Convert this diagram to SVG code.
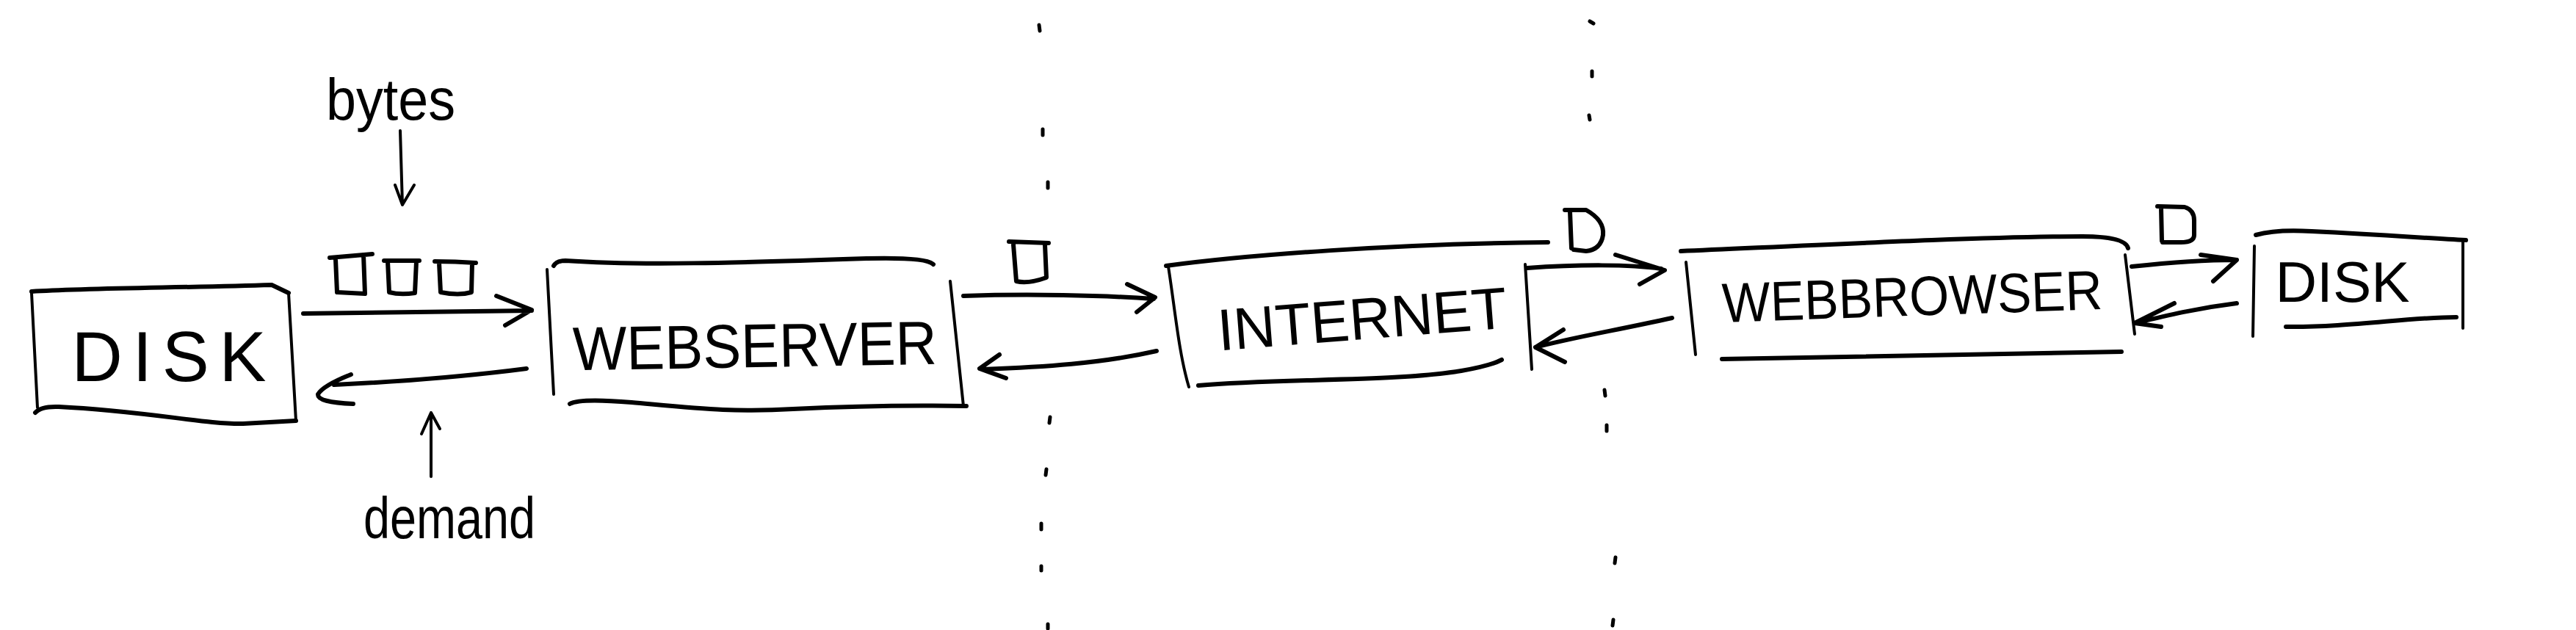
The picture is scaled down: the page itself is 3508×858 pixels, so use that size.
<svg xmlns="http://www.w3.org/2000/svg" width="3508" height="858" viewBox="0 0 3508 858">
<style>
.ln{fill:none;stroke:#000;stroke-width:6;stroke-linecap:round;stroke-linejoin:round}
.th{stroke-width:4}
.dot{fill:none;stroke:#000;stroke-width:5;stroke-linecap:round}
.lbl{font-family:"Liberation Sans",Arial,sans-serif;fill:#000}
</style>
<rect width="3508" height="858" fill="#fff"/>
<g id="boundaries">
<path class="dot" d="M1415,34 L1416,42 M1420,176 L1420,184 M1427,248 L1427,256 M1430,568 L1429,576 M1425,639 L1424,647 M1418,713 L1418,721 M1418,771 L1418,777 M1427,850 L1427,856"/>
<path class="dot" d="M2165,29 L2170,32 M2168,97 L2168,104 M2164,157 L2165,163 M2185,531 L2186,539 M2188,579 L2188,587 M2200,759 L2199,767 M2197,844 L2196,852"/>
</g>
<g id="disk">
<path class="ln" d="M43,397 C120,392 250,392 370,388 L393,399"/>
<path class="ln th" d="M43,399 L51,555"/>
<path class="ln th" d="M393,399 L403,573"/>
<path class="ln" d="M48,562 Q56,553 80,554 C200,560 280,578 331,577 L403,573"/>
<text class="lbl" x="230" y="519" font-size="96" text-anchor="middle" textLength="265" lengthAdjust="spacing">DISK</text>
</g>
<g id="webserver">
<path class="ln" d="M754,362 Q758,355 770,355 C870,362 1000,358 1180,352 Q1262,350 1271,360"/>
<path class="ln th" d="M745,367 L754,537"/>
<path class="ln th" d="M1294,383 L1312,553"/>
<path class="ln" d="M776,550 Q790,542 860,548 C950,556 1000,562 1080,557 C1180,552 1260,552 1316,553"/>
<text class="lbl" x="1028" y="500" font-size="84" text-anchor="middle" textLength="496" lengthAdjust="spacingAndGlyphs" transform="rotate(-1 1028 480)">WEBSERVER</text>
</g>
<g id="internet">
<path class="ln" d="M1588,362 C1700,347 1900,332 2108,330"/>
<path class="ln th" d="M1591,363 C1600,420 1605,480 1619,527"/>
<path class="ln th" d="M2077,360 L2086,503"/>
<path class="ln" d="M1632,525 C1750,515 1900,520 1990,505 Q2030,498 2045,490"/>
<text class="lbl" x="1855" y="462" font-size="80" text-anchor="middle" textLength="395" lengthAdjust="spacingAndGlyphs" transform="rotate(-4.5 1855 435)">INTERNET</text>
</g>
<g id="webbrowser">
<path class="ln" d="M2289,342 C2450,335 2700,322 2836,322 Q2894,322 2898,338"/>
<path class="ln th" d="M2296,357 L2309,483"/>
<path class="ln th" d="M2894,347 L2907,455"/>
<path class="ln" d="M2345,489 L2889,479"/>
<text class="lbl" x="2604" y="430" font-size="76" text-anchor="middle" textLength="518" lengthAdjust="spacingAndGlyphs" transform="rotate(-2 2604 405)">WEBBROWSER</text>
</g>
<g id="disk2">
<path class="ln" d="M3072,320 Q3100,312 3148,315 C3250,320 3300,324 3358,327"/>
<path class="ln th" d="M3070,335 L3068,458"/>
<path class="ln th" d="M3354,330 L3354,447"/>
<path class="ln" d="M3113,445 C3200,446 3280,432 3345,432"/>
<text class="lbl" x="3190" y="411" font-size="78" text-anchor="middle" textLength="183" lengthAdjust="spacingAndGlyphs">DISK</text>
</g>
<g id="connectors">
<path class="ln" d="M413,427 L724,423 M676,403 L724,422 L688,443"/>
<path class="ln" d="M717,502 C640,512 540,520 455,524 M478,510 Q440,525 433,537 Q432,548 481,550"/>
<path class="ln" d="M1312,403 C1400,400 1500,402 1571,407 M1535,387 L1573,405 L1548,425"/>
<path class="ln" d="M1575,478 C1500,495 1420,500 1338,503 M1361,483 L1334,502 L1370,515"/>
<path class="ln" d="M2080,365 C2150,360 2220,360 2262,366 M2200,347 L2267,368 L2233,387"/>
<path class="ln" d="M2277,433 C2200,450 2140,460 2091,473 M2129,449 L2091,473 L2131,493"/>
<path class="ln" d="M2903,363 C2950,358 3000,354 3044,354 M2997,347 L3046,354 L3014,383"/>
<path class="ln" d="M3046,413 C2990,420 2950,430 2907,440 M2961,413 L2907,440 L2943,445"/>
<path class="ln th" d="M545,178 L548,279 M538,252 L548,279 L564,252"/>
<path class="ln th" d="M587,649 L587,562 M574,591 L587,562 L599,584"/>
</g>
<g id="packets">
<path class="ln" d="M449,351 L507,346 M457,353 L459,398 L497,400 L495,347"/>
<path class="ln" d="M523,355 L571,355 M528,356 L530,398 Q545,402 565,399 L567,356"/>
<path class="ln" d="M592,356 Q620,356 648,358 M598,358 L600,398 Q625,403 642,398 L643,358"/>
<path class="ln" d="M1374,329 L1428,331 M1380,333 L1384,383 Q1400,387 1425,378 L1423,333"/>
<path class="ln" d="M2131,286 L2160,286 Q2185,300 2183,320 Q2180,340 2160,342 L2143,340 M2138,288 L2140,338"/>
<path class="ln" d="M2938,281 L2975,282 Q2988,286 2988,300 L2988,320 Q2988,330 2970,330 L2945,330 M2943,283 L2944,328"/>
</g>
<g id="labels">
<text class="lbl" x="532" y="163" font-size="80" text-anchor="middle" textLength="176" lengthAdjust="spacingAndGlyphs">bytes</text>
<text class="lbl" x="612" y="733" font-size="80" text-anchor="middle" textLength="234" lengthAdjust="spacingAndGlyphs">demand</text>
</g>
</svg>
